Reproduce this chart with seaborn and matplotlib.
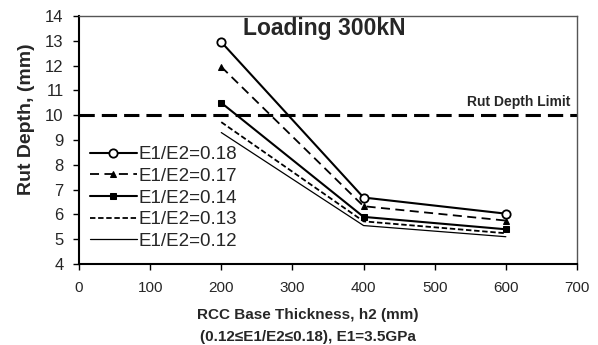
import matplotlib
matplotlib.use("Agg")
import matplotlib.pyplot as plt
import seaborn as sns
import pandas as pd

thickness = [200, 400, 600]
labels = ["E1/E2=0.18", "E1/E2=0.17", "E1/E2=0.14", "E1/E2=0.13", "E1/E2=0.12"]
e018 = [12.95, 6.68, 6.03]
e017 = [11.95, 6.33, 5.75]
e014 = [10.5, 5.9, 5.4]
e013 = [9.72, 5.72, 5.24]
e012 = [9.3, 5.55, 5.1]
rut_limit = 10

sns.set_theme(style="white")
plt.rcParams['font.family'] = ['Liberation Sans', 'DejaVu Sans']

fig = plt.figure(figsize=(5.98, 3.45), dpi=100)
ax = fig.add_axes([79/598, 1-264/345, (577-79)/598, (264-16)/345])

series = [e018, e017, e014, e013, e012]
styles = [
    dict(linestyle='-', marker='o', markerfacecolor='white', markeredgecolor='black', markersize=6, markeredgewidth=1.3, linewidth=1.5),
    dict(linestyle=(0, (5, 3)), marker='^', markerfacecolor='black', markeredgecolor='black', markersize=5, linewidth=1.3),
    dict(linestyle='-', marker='s', markerfacecolor='black', markeredgecolor='black', markersize=5, linewidth=1.5),
    dict(linestyle=(0, (3, 1.5)), marker=None, linewidth=1.3),
    dict(linestyle='-', marker=None, linewidth=0.9),
]
for vals, lab, st in zip(series, labels, styles):
    df = pd.DataFrame({"x": thickness, "y": vals})
    sns.lineplot(data=df, x="x", y="y", ax=ax, color="black", label=lab, **st)

ax.axhline(rut_limit, color="black", linewidth=2.2, linestyle=(0, (5, 2.3)))

ax.set_xlim(0, 700)
ax.set_ylim(4, 14)
ax.set_xticks(range(0, 701, 100))
ax.set_yticks(range(4, 15, 1))
ax.tick_params(axis='both', direction='out', length=4, width=1, color='black')
ax.tick_params(axis='x', bottom=True, labelsize=11, pad=8.5)
ax.tick_params(axis='y', left=True, labelsize=12, pad=7)
for s in ['left', 'bottom']:
    ax.spines[s].set_color('black')
    ax.spines[s].set_linewidth(1.5)
for s in ['top', 'right']:
    ax.spines[s].set_color('#555555')
    ax.spines[s].set_linewidth(1.0)

ax.set_xlabel("RCC Base Thickness, h2 (mm)\n(0.12≤E1/E2≤0.18), E1=3.5GPa", fontsize=11, fontweight='bold', linespacing=1.68)
ax.xaxis.set_label_coords(0.46, -0.178)
ax.set_ylabel("Rut Depth, (mm)", fontsize=14, fontweight='bold')
ax.yaxis.set_label_coords(-0.088, 0.585)

ax.text(345, 13.48, "Loading 300kN", fontsize=16.5, fontweight='bold', ha='center', va='center')
ax.text(690, 10.25, "Rut Depth Limit", fontsize=10, fontweight='bold', ha='right', va='bottom')

leg = ax.legend(loc='upper left', bbox_to_anchor=(0.022, 0.475), frameon=False, fontsize=13.5,
                handlelength=2.5, labelspacing=0.24, handletextpad=0.1, borderaxespad=0, borderpad=0)

fig.savefig("out.png", dpi=100)
